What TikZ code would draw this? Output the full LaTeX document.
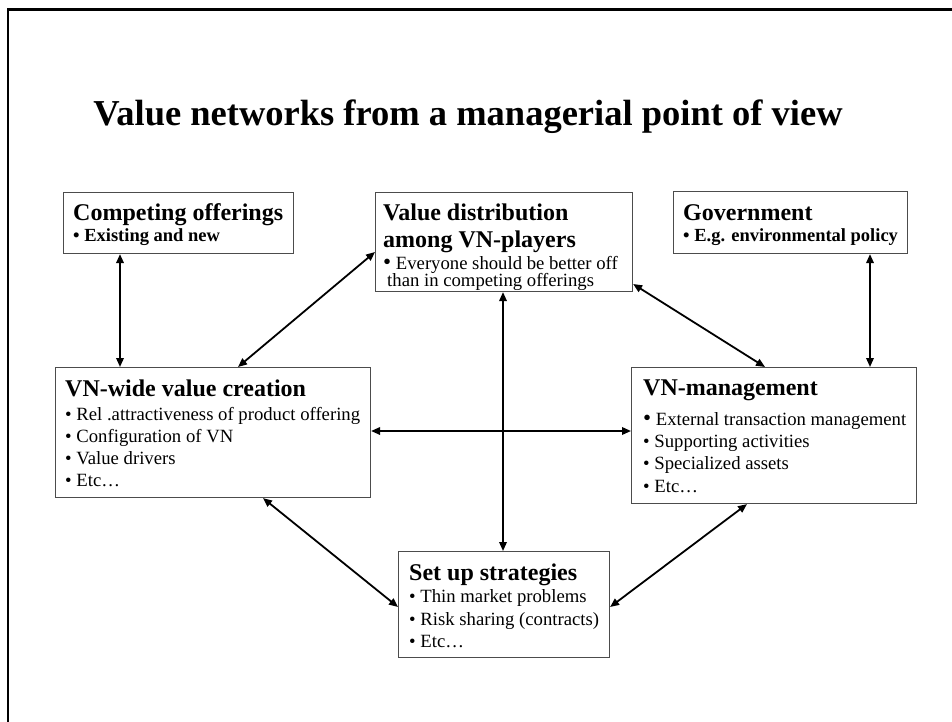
\documentclass[tikz,border=0pt]{standalone}
\usepackage{fontspec}
\setmainfont{Liberation Serif}
\usetikzlibrary{arrows.meta}
\newcommand\bigdot{{\fontsize{23}{23}\selectfont\textbullet}}

\begin{document}
\begin{tikzpicture}[x=1pt,y=-1pt,
  panel/.style={draw=black!70, line width=1.1pt, fill=white, inner sep=0pt, anchor=north west},
  txt/.style={anchor=base west, inner sep=0pt},
  head/.style={txt, font=\fontsize{24}{24}\selectfont\bfseries},
  item/.style={txt, font=\fontsize{18.7}{20}\selectfont},
  bolditem/.style={txt, font=\fontsize{18.5}{20}\selectfont\bfseries},
  link/.style={line width=1.8pt, {Triangle[length=9pt,width=7.5pt]}-{Triangle[length=9pt,width=7.5pt]}}
]
\clip (0,0) rectangle (952,722);
\useasboundingbox (0,0) rectangle (952,722);
\fill[white] (0,0) rectangle (952,722);

% slide frame
\draw[line width=2.6pt] (8,740) -- (8,9.5) -- (970,9.5);

% heading
\node[anchor=base, inner sep=0pt, font=\fontsize{36.5}{36.5}\selectfont\bfseries] (title) at (468,126)
  {Value networks from a managerial point of view};

% panels
\node[panel, minimum width=230pt, minimum height=61pt]  (comp)  at (63,192)  {};
\node[panel, minimum width=257pt, minimum height=99pt]  (dist)  at (375,192) {};
\node[panel, minimum width=234pt, minimum height=62pt]  (gov)   at (673,191) {};
\node[panel, minimum width=315pt, minimum height=130pt] (wide)  at (55,367)  {};
\node[panel, minimum width=285pt, minimum height=136pt] (mgmt)  at (631,367) {};
\node[panel, minimum width=211pt, minimum height=106pt] (setup) at (398,551) {};

% competing offerings
\node[head]     (compT) at (73,220) {Competing offerings};
\node[bolditem] (comp1) at (73,241) {\textbullet\ Existing and new};

% value distribution
\node[head] (distT)  at (383,220) {Value distribution};
\node[head] (distT2) at (383,247) {among VN-players};
\node[item] (dist1)  at (383,269) {\bigdot\ Everyone should be better off};
\node[item] (dist2)  at (387,286) {than in competing offerings};

% government
\node[head]     (govT) at (683,220) {Government};
\node[bolditem] (gov1) at (683,241) {\textbullet\ E.g. environmental policy};

% VN-wide value creation
\node[head] (wideT) at (65,396) {VN-wide value creation};
\node[item] (wide1) at (65,420) {\textbullet\ Rel .attractiveness of product offering};
\node[item] (wide2) at (65,442) {\textbullet\ Configuration of VN};
\node[item] (wide3) at (65,464) {\textbullet\ Value drivers};
\node[item] (wide4) at (65,486) {\textbullet\ Etc\dots};

% VN-management
\node[head] (mgmtT) at (643,395) {VN-management};
\node[item] (mgmt1) at (643,425) {\bigdot\ External transaction management};
\node[item] (mgmt2) at (643,447) {\textbullet\ Supporting activities};
\node[item] (mgmt3) at (643,469) {\textbullet\ Specialized assets};
\node[item] (mgmt4) at (643,492) {\textbullet\ Etc\dots};

% set up strategies
\node[head] (setupT) at (409,580) {Set up strategies};
\node[item] (setup1) at (409,602) {\textbullet\ Thin market problems};
\node[item] (setup2) at (409,625) {\textbullet\ Risk sharing (contracts)};
\node[item] (setup3) at (409,647) {\textbullet\ Etc\dots};

% two-way links
\draw[link] ([xshift=57pt]comp.south west) -- ([xshift=65pt]wide.north west);
\draw[link] ([xshift=197pt]gov.south west) -- ([xshift=239pt]mgmt.north west);
\draw[link] ([yshift=-60pt]dist.north west) -- ([xshift=183pt]wide.north west);
\draw[link] ([yshift=-92pt]dist.north east) -- ([xshift=134pt]mgmt.north west);
\draw[link] ([xshift=128pt]dist.south west) -- ([xshift=105pt]setup.north west);
\draw[link] ([yshift=-64pt]wide.north east) -- ([yshift=-64pt]mgmt.north west);
\draw[link] ([xshift=208pt]wide.south west) -- ([yshift=-56pt]setup.north west);
\draw[link] ([xshift=116pt]mgmt.south west) -- ([yshift=-56pt]setup.north east);
\end{tikzpicture}
\end{document}
